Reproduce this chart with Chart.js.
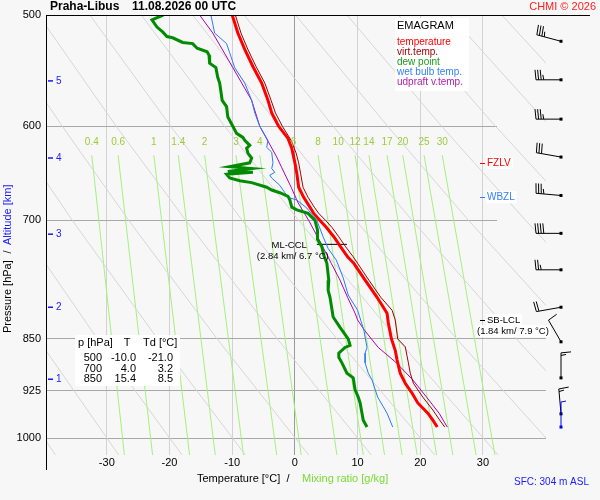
<!DOCTYPE html>
<html>
<head>
<meta charset="utf-8">
<title>Emagram Praha-Libus</title>
<script src="https://cdn.jsdelivr.net/npm/chart.js@4.4.1/dist/chart.umd.min.js"></script>
<style>
  html, body { margin: 0; padding: 0; background: #f7f7f7; }
  canvas { display: block; }
</style>
</head>
<body>
<canvas id="emagram" width="600" height="500"></canvas>
<script>
// sounding profiles, pressure [hPa] / temperature [°C]
const tempP = [500, 515, 529, 544, 559, 575, 587, 600, 612, 622, 637, 648, 663, 674, 685, 692, 700, 708, 719, 731,
  743, 751, 772, 794, 815, 828, 850, 866, 880, 899, 914, 929, 944, 960, 971, 982];
const tempT = [-10.0, -9.1, -8.0, -6.7, -5.3, -4.3, -3.7, -2.6, -1.1, -0.5, 0.0, 0.3, 0.6, 1.4, 2.4, 3.0, 4.0, 5.0, 6.2, 7.3,
  8.4, 9.4, 11.2, 13.1, 14.7, 14.9, 15.4, 16.0, 16.3, 16.8, 17.6, 18.7, 19.6, 21.2, 22.0, 22.7];

const virtP = [500, 515, 529, 544, 559, 575, 587, 600, 614, 627, 637, 648, 663, 674, 685, 692, 700, 708, 719, 731,
  743, 751, 772, 794, 811, 824, 850, 861, 884, 899, 914, 935, 955, 971, 982];
const virtT = [-9.5, -8.6, -7.5, -6.2, -4.8, -3.8, -3.1, -2.0, -0.6, 0.2, 0.6, 0.9, 1.3, 2.1, 3.1, 3.8, 4.9, 5.9, 7.0, 8.1,
  9.3, 10.0, 11.8, 13.7, 15.5, 16.0, 16.4, 17.6, 18.1, 18.4, 18.9, 20.4, 22.0, 23.1, 23.9];

const dewP = [500, 504, 510, 514, 518, 519, 523, 524, 528, 531, 534, 541, 545, 554, 559, 575, 581, 591, 600, 607,
  611, 614, 619, 622, 627, 632, 637, 641, 643, 646, 647, 649, 653, 656, 658, 663, 666, 669, 673, 677,
  685, 688, 692, 700, 711, 722, 731, 741, 751, 772, 785, 794, 820, 834, 850, 859, 862, 870, 876, 884,
  899, 906, 924, 935, 944, 960, 971, 982];
const dewT = [-21.0, -22.8, -22.0, -21.1, -20.4, -19.5, -17.9, -16.3, -15.6, -14.0, -13.7, -13.6, -12.6, -12.3, -12.0, -11.6, -10.9, -10.7, -9.9, -9.3,
  -8.3, -8.0, -7.2, -7.7, -7.5, -6.9, -7.2, -10.4, -6.9, -10.7, -6.7, -10.9, -10.4, -8.8, -6.9, -4.5, -3.7, -2.4, -1.1, -0.8,
  -0.5, 0.3, 2.1, 3.2, 3.6, 3.6, 4.3, 4.6, 5.1, 5.4, 5.3, 5.6, 6.1, 7.2, 8.5, 8.8, 8.0, 7.0, 7.0, 7.5,
  8.3, 9.3, 9.6, 10.1, 10.4, 10.7, 10.9, 11.5];

const wetP = [500, 515, 524, 532, 545, 559, 575, 587, 600, 614, 621, 626, 637, 643, 647, 650, 653, 661, 669, 674,
  677, 686, 700, 719, 733, 747, 769, 791, 811, 838, 862, 870, 884, 899, 909, 935, 960, 982];
const wetT = [-13.4, -12.8, -10.9, -10.4, -9.6, -8.0, -6.9, -6.4, -5.6, -4.3, -4.5, -3.7, -3.5, -3.7, -3.2, -4.0, -3.7, -2.4, -1.6, -1.1,
  0.3, 1.9, 3.5, 4.5, 5.3, 6.6, 7.7, 8.5, 10.0, 11.0, 11.5, 11.2, 11.2, 11.7, 12.3, 13.2, 14.7, 15.6];

const parcelP = [500, 515, 545, 575, 600, 631, 642, 663, 680, 700, 719, 739, 751, 772, 794, 815, 824, 838, 862, 884, 909, 935, 960, 982];
const parcelT = [-15.2, -13.1, -9.9, -6.9, -5.6, -2.9, -2.1, -0.6, 0.5, 2.2, 3.6, 5.0, 5.8, 7.2, 8.4, 9.6, 10.0, 11.1, 13.3, 16.2, 18.8, 21.0, 23.0, 24.3];

// background lines of the diagram
const dryAdiabatP = [500, 600, 700, 850, 1028];
const dryAdiabatT = [ // theta -40 .. 100 °C, every 10
  [-81.9, -71.7, -62.6, -50.6, -38.2],
  [-73.7, -63.0, -53.6, -41.0, -28.1],
  [-65.5, -54.4, -44.5, -31.5, -18.0],
  [-57.3, -45.7, -35.5, -21.9, -7.9],
  [-49.1, -37.1, -26.5, -12.4, 2.2],
  [-40.9, -28.5, -17.4, -2.8, 12.2],
  [-32.7, -19.8, -8.4, 6.7, 22.3],
  [-24.5, -11.2, 0.6, 16.3, 32.4],
  [-16.3, -2.5, 9.7, 25.8, 42.5],
  [-8.1, 6.1, 18.7, 35.3, 52.6],
  [0.1, 14.8, 27.7, 44.9, 62.6],
  [8.3, 23.4, 36.8, 54.4, 72.7],
  [16.5, 32.0, 45.8, 64.0, 82.8],
  [24.7, 40.7, 54.8, 73.5, 92.9],
  [33.0, 49.3, 63.8, 83.1, 103.0]
];
const mixLabels = ['0.4', '0.6', '1', '1.4', '2', '3', '4', '6', '8', '10', '12', '14', '17', '20', '25', '30'];
const mixTopT = [-32.4, -28.2, -22.5, -18.6, -14.4, -9.4, -5.6, -0.2, 3.7, 6.9, 9.6, 11.8, 14.7, 17.2, 20.6, 23.5];
const mixBottomT = [-27.2, -22.7, -16.8, -12.7, -8.2, -2.9, 1.0, 6.7, 10.9, 14.3, 17.1, 19.5, 22.6, 25.2, 28.9, 31.9];
const mixTopP = 629;
const mixBottomP = 1028;

// axes
const xTicks = [-30, -20, -10, 0, 10, 20, 30];
const yTicks = [500, 600, 700, 850, 925, 1000];
const altKm = [1, 2, 3, 4, 5];
const altP = [908, 807, 716, 632, 557];

// table of standard levels
const tableP = [500, 700, 850];
const tableT = [-10.0, 4.0, 15.4];
const tableTd = [-21.0, 3.2, 8.5];

// levels
const fzlvP = 637;
const wbzlP = 674;
const sbLclP = 824;
const mlCclP = 728;
const mlCclT = [3.5, 8.3];

// wind
const windP = [522, 556, 593, 631, 672, 715, 759, 807, 854, 906, 961];
const windDir = [285, 270, 270, 280, 275, 270, 270, 260, 330, 360, 355];
const windKt = [35, 35, 35, 30, 35, 40, 25, 20, 10, 15, 15];
const sfcP = 982;
const sfcDir = 360;
const sfcKt = 5;

const BG = '#f7f7f7';
const FONT = '"Liberation Sans", Arial, Helvetica, sans-serif';
const MIX_LINE = '#a4f07c';
const MIX_TEXT = '#9ccc3c';

const pts = (ps, ts) => ps.map((p, i) => ({ x: ts[i], y: p }));

function profile(label, ps, ts, color, width) {
  return { label, data: pts(ps, ts), borderColor: color, borderWidth: width, pointRadius: 0, tension: 0, fill: false };
}

const datasets = [
  profile('temperature', tempP, tempT, '#ff0000', 3),
  profile('dew point', dewP, dewT, '#008c00', 3),
  profile('virt.temp.', virtP, virtT, '#a00000', 1),
  profile('wet bulb temp.', wetP, wetT, '#2b78ff', 1),
  profile('udpraft v.temp.', parcelP, parcelT, '#b000b0', 1),
  profile('ML-CCL', [mlCclP, mlCclP], mlCclT, '#000000', 1)
];
dryAdiabatT.forEach(row => datasets.push(profile('', dryAdiabatP, row, '#d6d6d6', 1)));
mixTopT.forEach((t, i) => datasets.push(profile('', [mixTopP, mixBottomP], [t, mixBottomT[i]], MIX_LINE, 1)));

function say(ctx, str, x, y, color, size, align, weight) {
  ctx.font = (weight || '') + ' ' + size + 'px ' + FONT;
  ctx.fillStyle = color;
  ctx.textAlign = align || 'left';
  ctx.textBaseline = 'middle';
  ctx.fillText(str, x, y);
}

function boxed(ctx, str, x, y, color, size) {
  ctx.font = size + 'px ' + FONT;
  const w = ctx.measureText(str).width;
  ctx.fillStyle = '#ffffff';
  ctx.fillRect(x - 1, y - 6, w + 3, 12);
  say(ctx, str, x, y, color, size);
}

function dash(ctx, x0, x1, y, color) {
  ctx.strokeStyle = color;
  ctx.lineWidth = 1;
  ctx.beginPath();
  ctx.moveTo(x0, Math.round(y) + 0.5);
  ctx.lineTo(x1, Math.round(y) + 0.5);
  ctx.stroke();
}

function drawBarb(ctx, x, y, dir, kt, color) {
  const a = dir * Math.PI / 180;
  const ux = Math.sin(a), uy = -Math.cos(a);
  const fx = Math.sin(a + Math.PI / 2), fy = -Math.cos(a + Math.PI / 2);
  const staff = 25;
  ctx.strokeStyle = color;
  ctx.lineWidth = 1;
  ctx.beginPath();
  ctx.moveTo(x, y);
  ctx.lineTo(x + ux * staff, y + uy * staff);
  let pos = staff;
  let rest = Math.round(kt / 5) * 5;
  const feather = len => {
    const bx = x + ux * pos, by = y + uy * pos;
    ctx.moveTo(bx, by);
    ctx.lineTo(bx + fx * len + ux * 1, by + fy * len + uy * 1);
    pos -= 2.6;
  };
  while (rest >= 10) { feather(10); rest -= 10; }
  if (rest >= 5) feather(5);
  ctx.stroke();
  ctx.fillStyle = color;
  ctx.fillRect(x - 1.5, y - 1.5, 3, 3);
}

const overlay = {
  id: 'overlay',
  beforeDatasetsDraw(chart) {
    const { ctx, chartArea, scales } = chart;
    const yCut = scales.y.getPixelForValue(800);
    ctx.save();
    ctx.fillStyle = BG;
    ctx.fillRect(chartArea.right - 49, chartArea.top, 50, yCut - chartArea.top);
    ctx.restore();
  },
  afterDatasetsDraw(chart) {
    const { ctx, chartArea, scales } = chart;
    const xs = scales.x, ys = scales.y;
    const L = chartArea.left, T = chartArea.top, R = chartArea.right;
    ctx.save();

    // mixing ratio labels
    const yMix = ys.getPixelForValue(mixTopP) - 13;
    mixLabels.forEach((s, i) => say(ctx, s, xs.getPixelForValue(mixTopT[i]), yMix, MIX_TEXT, 10, 'center'));

    // altitude marks
    altKm.forEach((km, i) => {
      const y = ys.getPixelForValue(altP[i]);
      ctx.strokeStyle = '#1a1aff';
      ctx.lineWidth = 1.5;
      ctx.beginPath();
      ctx.moveTo(L + 2, y);
      ctx.lineTo(L + 7, y);
      ctx.stroke();
      say(ctx, String(km), L + 10, y, '#1a1aff', 10);
    });

    // legend box
    ctx.fillStyle = '#ffffff';
    ctx.fillRect(395, 18, 74, 73);
    say(ctx, 'EMAGRAM', 397, 26, '#000000', 11);
    say(ctx, 'temperature', 397, 42, '#ff0000', 10);
    say(ctx, 'virt.temp.', 397, 52, '#a00000', 10);
    say(ctx, 'dew point', 397, 62, '#1a9a1a', 10);
    say(ctx, 'wet bulb temp.', 397, 72, '#3380ff', 10);
    say(ctx, 'udpraft v.temp.', 397, 82, '#b020b0', 10);

    // table of standard levels
    ctx.fillStyle = '#ffffff';
    ctx.fillRect(75, 335, 105, 51);
    say(ctx, 'p [hPa]', 78, 343, '#000000', 11);
    say(ctx, 'T', 127, 343, '#000000', 11, 'center');
    say(ctx, 'Td [°C]', 143, 343, '#000000', 11);
    tableP.forEach((p, i) => {
      const y = 358 + i * 10.5;
      say(ctx, String(p), 102, y, '#000000', 11, 'right');
      say(ctx, tableT[i].toFixed(1), 136, y, '#000000', 11, 'right');
      say(ctx, tableTd[i].toFixed(1), 173, y, '#000000', 11, 'right');
    });

    // level labels
    const xLev = xs.getPixelForValue(30) - 3;
    let y = ys.getPixelForValue(fzlvP);
    dash(ctx, xLev, xLev + 5, y, '#ff0000');
    boxed(ctx, 'FZLV', xLev + 7, y, '#ff0000', 10);
    y = ys.getPixelForValue(wbzlP);
    dash(ctx, xLev, xLev + 5, y, '#3380ff');
    boxed(ctx, 'WBZL', xLev + 7, y, '#3380ff', 10);
    y = ys.getPixelForValue(sbLclP);
    dash(ctx, xLev, xLev + 5, y, '#000000');
    boxed(ctx, 'SB-LCL', xLev + 7, y, '#000000', 9.5);
    boxed(ctx, '(1.84 km/ 7.9 °C)', xLev - 3, y + 11, '#000000', 9.5);
    y = ys.getPixelForValue(mlCclP);
    say(ctx, 'ML-CCL', xs.getPixelForValue(mlCclT[0]) - 10, y + 1, '#000000', 9.5, 'right');
    say(ctx, '(2.84 km/ 6.7 °C)', xs.getPixelForValue(mlCclT[0]) - 60, y + 12, '#000000', 9.5);

    // wind barbs
    const xBarb = R + 15;
    windP.forEach((p, i) => drawBarb(ctx, xBarb, ys.getPixelForValue(p), windDir[i], windKt[i], '#000000'));
    drawBarb(ctx, xBarb, ys.getPixelForValue(sfcP), sfcDir, sfcKt, '#0000ff');

    // frame
    ctx.strokeStyle = '#000000';
    ctx.lineWidth = 1;
    ctx.beginPath();
    ctx.moveTo(L, T + 0.5);
    ctx.lineTo(590, T + 0.5);
    ctx.moveTo(L + 0.5, T);
    ctx.lineTo(L + 0.5, 470);
    ctx.stroke();

    // titles
    say(ctx, 'Praha-Libus', 50, 7, '#000000', 12, 'left', 'bold');
    say(ctx, '11.08.2026 00 UTC', 132, 7, '#000000', 12, 'left', 'bold');
    say(ctx, 'CHMI © 2026', 596, 7, '#ff2020', 11, 'right');
    say(ctx, 'Temperature [°C]', 197, 479, '#000000', 11);
    say(ctx, '/', 288, 479, '#000000', 11, 'center');
    say(ctx, 'Mixing ratio [g/kg]', 302, 479, '#77dd33', 11);
    say(ctx, 'SFC: 304 m ASL', 589, 482, '#1a1aff', 10, 'right');

    ctx.translate(8, 333);
    ctx.rotate(-Math.PI / 2);
    say(ctx, 'Pressure [hPa]', 0, 0, '#000000', 11);
    say(ctx, '/', 81, 0, '#000000', 11, 'center');
    say(ctx, 'Altitude [km]', 88, 0, '#1a1aff', 11);
    ctx.restore();
  }
};

new Chart(document.getElementById('emagram'), {
  type: 'line',
  data: { datasets },
  options: {
    responsive: false,
    animation: false,
    events: [],
    layout: { padding: { top: 15, right: 54, left: 0, bottom: 0 } },
    plugins: { legend: { display: false }, tooltip: { enabled: false } },
    scales: {
      x: {
        type: 'linear',
        min: -39.7,
        max: 40.05,
        afterBuildTicks: scale => { scale.ticks = xTicks.map(v => ({ value: v })); },
        afterFit: scale => { scale.height = 45; },
        grid: {
          drawTicks: false,
          color: c => (c.tick && c.tick.value === 0 ? '#9a9a9a' : '#d2d2d2')
        },
        border: { display: false },
        ticks: {
          autoSkip: false,
          maxRotation: 0,
          padding: 1,
          color: '#000000',
          font: { family: FONT, size: 11 }
        }
      },
      y: {
        type: 'logarithmic',
        reverse: true,
        min: 500,
        max: 1028,
        afterBuildTicks: scale => { scale.ticks = yTicks.map(v => ({ value: v })); },
        afterFit: scale => { scale.width = 46; },
        grid: { drawTicks: false, color: '#a8a8a8' },
        border: { display: false },
        ticks: {
          padding: 5,
          color: '#000000',
          font: { family: FONT, size: 11 },
          callback: v => String(v)
        }
      }
    }
  },
  plugins: [overlay]
});
</script>
</body>
</html>
